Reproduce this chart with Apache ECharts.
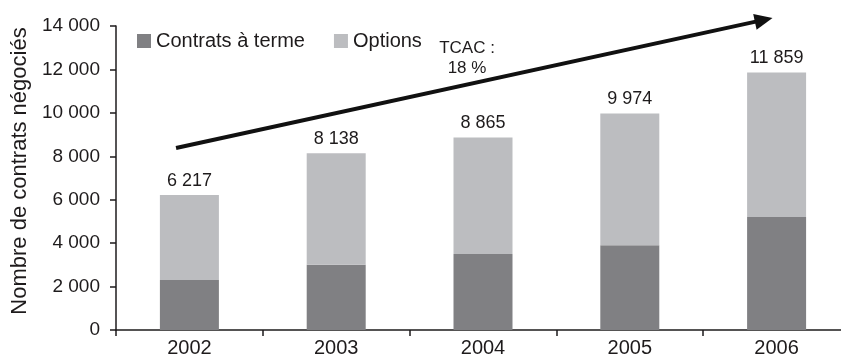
<!DOCTYPE html>
<html>
<head>
<meta charset="utf-8">
<script src="https://cdn.jsdelivr.net/npm/echarts@6/dist/echarts.min.js"></script>
<style>
html,body{margin:0;padding:0;background:#fff;}
#chart{width:841px;height:356px;}
</style>
</head>
<body>
<div id="chart"></div>
<script>
// ---- data ----
var years = ['2002', '2003', '2004', '2005', '2006'];
var totals = [6217, 8138, 8865, 9974, 11859];
var futures = [2300, 3000, 3500, 3900, 5200];
var options = totals.map(function (t, i) { return t - futures[i]; });
var seriesNames = ['Contrats à terme', 'Options'];
var yTicks = [0, 2000, 4000, 6000, 8000, 10000, 12000, 14000];
var arrowStart = [0.409, 8382];   // [category position, value]
var arrowTip = [4.472, 14368];
var cagrText = ['TCAC :', '18 %'];

function fmt(v) {
  return String(v).replace(/\B(?=(\d{3})+(?!\d))/g, ' ');
}

var FONT = 'Liberation Sans, Arial, Helvetica, sans-serif';
var TXT = '#1e1b1c';

var chart = echarts.init(document.getElementById('chart'), null, { renderer: 'canvas' });
chart.setOption({
  animation: false,
  textStyle: { fontFamily: FONT, color: TXT },
  grid: { left: 116, right: -9, top: 26, bottom: 26, containLabel: false, outerBoundsMode: 'none' },
  legend: {
    data: seriesNames,
    left: 137, top: 31, padding: 0,
    icon: 'rect', itemWidth: 14, itemHeight: 14, itemGap: 29,
    textStyle: { fontSize: 20, color: TXT, fontFamily: FONT, padding: [0, 0, 0, 0] }
  },
  xAxis: [{
    type: 'category',
    data: years,
    axisLine: { lineStyle: { color: TXT, width: 1.5 } },
    axisTick: { show: true, length: 6, lineStyle: { color: TXT, width: 1.5 } },
    axisLabel: { fontSize: 20, color: TXT, margin: 8, fontFamily: FONT }
  }, {
    type: 'value', min: 0, max: 5, show: false
  }],
  yAxis: [{
    type: 'value',
    min: yTicks[0], max: yTicks[yTicks.length - 1], interval: 2000,
    name: 'Nombre de contrats négociés',
    nameLocation: 'middle', nameRotate: 90, nameGap: 85,
    nameTextStyle: { fontSize: 22, color: TXT, fontFamily: FONT, padding: [0, 0, 0, 14] },
    axisLine: { show: true, lineStyle: { color: TXT, width: 1.5 } },
    axisTick: { show: true, length: 6, lineStyle: { color: TXT, width: 1.5 } },
    splitLine: { show: false },
    axisLabel: { fontSize: 19, color: TXT, margin: 16, fontFamily: FONT, formatter: function (v) { return fmt(v); } }
  }],
  series: [{
    name: seriesNames[0], type: 'bar', stack: 'total', data: futures,
    barWidth: 59, itemStyle: { color: '#808083' }
  }, {
    name: seriesNames[1], type: 'bar', stack: 'total', data: options,
    barWidth: 59, itemStyle: { color: '#bcbdc0' },
    label: {
      show: true, position: 'top', distance: 5, fontSize: 18, color: TXT, fontFamily: FONT,
      formatter: function (p) { return fmt(totals[p.dataIndex]); }
    }
  }]
});

// growth arrow, placed through the chart's own scales
var finder = { xAxisIndex: 1, yAxisIndex: 0 };
var p0 = chart.convertToPixel(finder, arrowStart);
var p1 = chart.convertToPixel(finder, arrowTip);
var dx = p1[0] - p0[0], dy = p1[1] - p0[1];
var len = Math.sqrt(dx * dx + dy * dy);
var ux = dx / len, uy = dy / len;
var headLen = 18, headHalf = 8;
var base = [p1[0] - ux * headLen, p1[1] - uy * headLen];
chart.setOption({
  graphic: [{
    type: 'text', x: 467, y: 38,
    style: { text: cagrText.join('\n'), fontSize: 17, lineHeight: 20, fill: TXT, fontFamily: FONT, align: 'center', textAlign: 'center' }
  }, {
    type: 'line', silent: true,
    shape: { x1: p0[0], y1: p0[1], x2: base[0] + ux * 2, y2: base[1] + uy * 2 },
    style: { stroke: '#111', lineWidth: 4 }
  }, {
    type: 'polygon', silent: true,
    shape: { points: [
      [p1[0], p1[1]],
      [base[0] - uy * headHalf, base[1] + ux * headHalf],
      [base[0] + uy * headHalf, base[1] - ux * headHalf]
    ] },
    style: { fill: '#111' }
  }]
});
</script>
</body>
</html>
